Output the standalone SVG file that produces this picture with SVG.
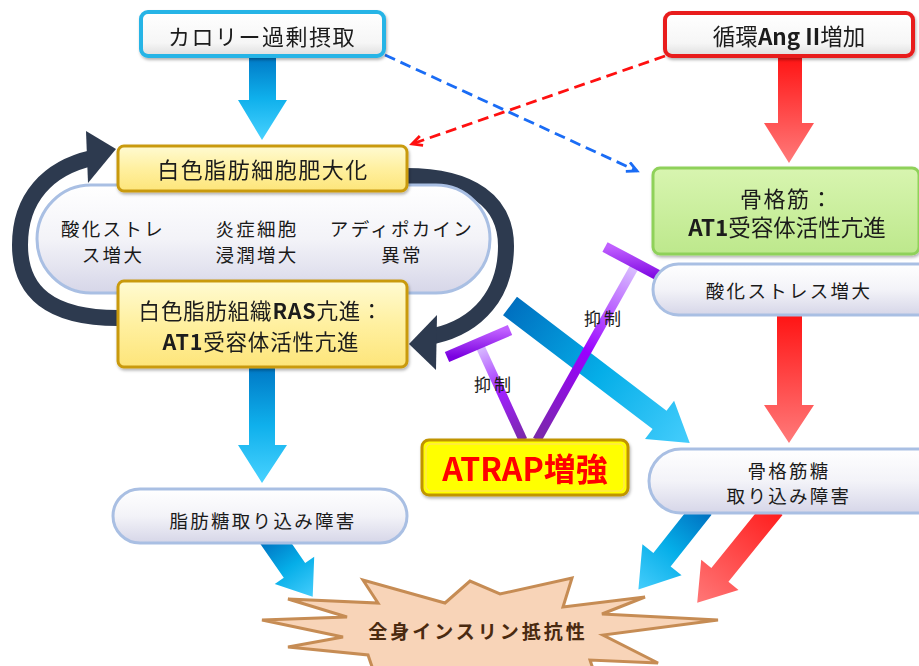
<svg xmlns="http://www.w3.org/2000/svg" width="919" height="666" viewBox="0 0 919 666">
<style>
text{font-family:"Noto Sans CJK JP","Noto Sans",sans-serif;fill:#1a1a1a;dominant-baseline:central;text-anchor:middle}
.t22{font-size:22px;letter-spacing:1.5px}
.tm{font-size:22.5px}
.tr{font-size:21.5px;letter-spacing:0.8px}
.t19{font-size:18.5px;letter-spacing:2.3px}
.b{font-weight:bold}
.dash{fill:none;stroke-width:2.8;stroke-dasharray:11 6}
.arc{fill:none;stroke:#2d3a4f;stroke-width:16}
.pill{fill:url(#gPill);stroke:#a9bfe3;stroke-width:3}
.ybox{fill:url(#gYellow);stroke:#c99a10;stroke-width:3}
</style>
<defs>
<linearGradient id="gPill" x1="0" y1="0" x2="0" y2="1"><stop offset="0" stop-color="#ffffff"/><stop offset="0.5" stop-color="#f3f3f8"/><stop offset="1" stop-color="#d6d6e8"/></linearGradient>
<linearGradient id="gYellow" x1="0" y1="0" x2="0" y2="1"><stop offset="0" stop-color="#fffbd2"/><stop offset="0.5" stop-color="#fff0a0"/><stop offset="1" stop-color="#fde57a"/></linearGradient>
<linearGradient id="gGreen" x1="0" y1="0" x2="0" y2="1"><stop offset="0" stop-color="#d8f5b0"/><stop offset="1" stop-color="#bde88c"/></linearGradient>
<linearGradient id="gWhite" x1="0" y1="0" x2="0" y2="1"><stop offset="0" stop-color="#ffffff"/><stop offset="0.7" stop-color="#f6f6f6"/><stop offset="1" stop-color="#dedede"/></linearGradient>
<linearGradient id="gCyanV" x1="0" y1="0" x2="0" y2="1"><stop offset="0" stop-color="#0079c6"/><stop offset="0.5" stop-color="#0fb0ec"/><stop offset="1" stop-color="#48d2ff"/></linearGradient>
<linearGradient id="gRedV" x1="0" y1="0" x2="0" y2="1"><stop offset="0" stop-color="#ff1414"/><stop offset="1" stop-color="#ff7a7a"/></linearGradient>
<linearGradient id="gCyanH" x1="0" y1="0" x2="1" y2="0"><stop offset="0" stop-color="#0070c0"/><stop offset="0.5" stop-color="#05aee8"/><stop offset="1" stop-color="#45cdfc"/></linearGradient>
<linearGradient id="gRedH" x1="0" y1="0" x2="1" y2="0"><stop offset="0" stop-color="#ff1e1e"/><stop offset="1" stop-color="#ff7777"/></linearGradient>
<linearGradient id="gP1" gradientUnits="userSpaceOnUse" x1="479" y1="344" x2="523" y2="440"><stop offset="0" stop-color="#dcc8ff"/><stop offset="0.5" stop-color="#a020ff"/><stop offset="1" stop-color="#7a2aa8"/></linearGradient>
<linearGradient id="gP2" gradientUnits="userSpaceOnUse" x1="636" y1="264" x2="537" y2="440"><stop offset="0" stop-color="#dcc8ff"/><stop offset="0.5" stop-color="#9a00ff"/><stop offset="1" stop-color="#7a2aa8"/></linearGradient>
<linearGradient id="gBar" x1="0" y1="0" x2="0" y2="1"><stop offset="0" stop-color="#c060ff"/><stop offset="1" stop-color="#7a00e0"/></linearGradient>
<filter id="sh" x="-10%" y="-20%" width="120%" height="150%"><feDropShadow dx="1" dy="2" stdDeviation="1.5" flood-opacity="0.3"/></filter>
<marker id="mBlue" markerUnits="userSpaceOnUse" markerWidth="14" markerHeight="14" refX="11" refY="6" orient="auto"><path d="M1,1 L11,6 L1,11" fill="none" stroke="#1a6cf5" stroke-width="2.8"/></marker>
<marker id="mRed" markerUnits="userSpaceOnUse" markerWidth="14" markerHeight="14" refX="11" refY="6" orient="auto"><path d="M1,1 L11,6 L1,11" fill="none" stroke="#ff1010" stroke-width="2.8"/></marker>
</defs>

<g id="connectors">
  <line class="dash" x1="385" y1="55" x2="637" y2="171" stroke="#1a6cf5" marker-end="url(#mBlue)"/>
  <line class="dash" x1="665" y1="56" x2="412" y2="144" stroke="#ff1010" marker-end="url(#mRed)"/>
  <polygon points="249,57 276,57 276,100 287,100 262,140 238,100 249,100" fill="url(#gCyanV)"/>
  <polygon points="778,57 802,57 802,123 814,123 789,163 764,123 778,123" fill="url(#gRedV)"/>
  <polygon points="777,315 802,315 802,405 814,405 789,443 764,405 777,405" fill="url(#gRedV)"/>
  <polygon points="249,368 275,368 275,445 287,445 262,483 238,445 249,445" fill="url(#gCyanV)"/>
  <polygon transform="translate(270,535) rotate(55.3)" points="0,-13 43,-13 43,-24 75,0 43,24 43,13 0,13" fill="url(#gCyanH)"/>
  <polygon transform="translate(703,508) rotate(128.4)" points="0,-11 66,-11 66,-25 104,0 66,25 66,11 0,11" fill="url(#gCyanH)"/>
  <polygon transform="translate(774,508) rotate(129)" points="0,-11 86,-11 86,-24 122,0 86,24 86,11 0,11" fill="url(#gRedH)"/>
  <polygon transform="translate(510,306) rotate(37.3)" points="0,-11.5 188,-11.5 188,-24 226,0 188,24 188,11.5 0,11.5" fill="url(#gCyanH)"/>
  <path class="arc" d="M118,318 C50,318 20,292 20,245 C20,198 48,168 92,158"/>
  <polygon points="86,131 116,149 88,183" fill="#2d3a4f"/>
  <path class="arc" d="M406,176 C472,176 506,202 506,246 C506,294 478,326 434,336"/>
  <polygon points="437,315 409,344 436,370" fill="#2d3a4f"/>
  <line x1="523" y1="440" x2="479" y2="344" stroke="url(#gP1)" stroke-width="9"/>
  <line x1="447" y1="357" x2="510" y2="330" stroke="url(#gBar)" stroke-width="11"/>
  <line x1="537" y1="440" x2="636" y2="264" stroke="url(#gP2)" stroke-width="9"/>
  <line x1="605" y1="247" x2="667" y2="280" stroke="url(#gBar)" stroke-width="11"/>
  <text x="494" y="383" style="font-size:17px;letter-spacing:3px">抑制</text>
  <text x="604" y="317" style="font-size:17px;letter-spacing:3px">抑制</text>
</g>

<g id="pill-adipose">
  <rect class="pill" x="37" y="185" width="453" height="108" rx="54"/>
  <text class="t19" x="113" y="228">酸化ストレ</text>
  <text class="t19" x="113" y="254">ス増大</text>
  <text class="t19" x="257" y="228">炎症細胞</text>
  <text class="t19" x="257" y="254">浸潤増大</text>
  <text class="t19" x="402" y="228">アディポカイン</text>
  <text class="t19" x="402" y="254">異常</text>
</g>

<g id="calorie" filter="url(#sh)">
  <rect x="141" y="12" width="243" height="44" rx="7" fill="url(#gWhite)" stroke="#27b4e6" stroke-width="4"/>
  <text class="t22" x="262" y="35">カロリー過剰摂取</text>
</g>

<g id="angii" filter="url(#sh)">
  <rect x="665" y="13" width="248" height="43" rx="7" fill="url(#gWhite)" stroke="#e81a1a" stroke-width="4"/>
  <text class="tm" x="789" y="35">循環<tspan class="b">Ang II</tspan>増加</text>
</g>

<g id="adipocyte" filter="url(#sh)">
  <rect class="ybox" x="118" y="146" width="289" height="45" rx="6"/>
  <text class="t22" x="263" y="168">白色脂肪細胞肥大化</text>
</g>

<g id="adipose-ras" filter="url(#sh)">
  <rect class="ybox" x="118" y="281" width="289" height="86" rx="6"/>
  <text class="tr" x="261" y="309">白色脂肪組織<tspan class="b">RAS</tspan>亢進：</text>
  <text class="tr" x="261" y="340"><tspan class="b">AT1</tspan>受容体活性亢進</text>
</g>

<g id="muscle-at1" filter="url(#sh)">
  <rect x="653" y="168" width="266" height="86" rx="7" fill="url(#gGreen)" stroke="#8fd15a" stroke-width="3"/>
  <text class="t22" x="787" y="197">骨格筋：</text>
  <text class="tm" x="787" y="226"><tspan class="b">AT1</tspan>受容体活性亢進</text>
</g>

<g id="muscle-oxstress">
  <rect class="pill" x="653" y="264" width="300" height="51" rx="25.5"/>
  <text class="t19" x="789" y="290">酸化ストレス増大</text>
</g>

<g id="muscle-glucose">
  <rect class="pill" x="649" y="449" width="300" height="64" rx="32"/>
  <text class="t19" x="789" y="470">骨格筋糖</text>
  <text class="t19" x="789" y="495">取り込み障害</text>
</g>

<g id="fat-glucose">
  <rect class="pill" x="113" y="489" width="294" height="54" rx="27"/>
  <text class="t19" x="263" y="520">脂肪糖取り込み障害</text>
</g>

<g id="atrap" filter="url(#sh)">
  <rect x="422" y="440" width="206" height="55" rx="7" fill="#ffff00" stroke="#c09400" stroke-width="3"/>
  <rect x="426" y="444" width="198" height="47" rx="5" fill="none" stroke="#ffe84a" stroke-width="1.5"/>
  <text x="525" y="467" style="font-size:32px;font-weight:bold;fill:#ff0000">ATRAP増強</text>
</g>

<g id="insulin-resistance">
  <polygon points="262,620 347,617 288,599 378,603 363,580 445,603 470,581 500,594 572,578 563,607 645,597 602,614 718,620 603,635 658,663 590,660 600,690 520,668 480,690 440,668 380,690 368,655 288,647 343,637" fill="#f8d4b8" stroke="#c68c54" stroke-width="3"/>
  <text x="478" y="630" style="font-size:19px;font-weight:bold;letter-spacing:3px;fill:#4a2a10">全身インスリン抵抗性</text>
</g>
</svg>
